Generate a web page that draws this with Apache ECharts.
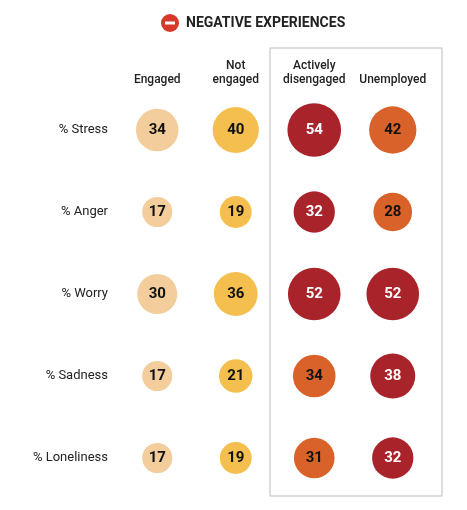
<!DOCTYPE html>
<html><head><meta charset="utf-8">
<script src="https://cdn.jsdelivr.net/npm/echarts@6/dist/echarts.min.js"></script>
<style>body{margin:0;background:#fff}#chart{width:467px;height:510px}</style>
</head><body><div id="chart"></div>
<script>
var groups = ['Engaged', 'Not\nengaged', 'Actively\ndisengaged', 'Unemployed'];
var measures = ['% Stress', '% Anger', '% Worry', '% Sadness', '% Loneliness'];
var engaged = [34, 17, 30, 17, 17];
var notEngaged = [40, 19, 36, 21, 19];
var activelyDisengaged = [54, 32, 52, 34, 31];
var unemployed = [42, 28, 52, 38, 32];

var cols = [engaged, notEngaged, activelyDisengaged, unemployed];
var data = [];
measures.forEach(function (m, r) {
	for (var c = 0; c < 4; c++) {
		var v = cols[c][r];
		var color, txt = '#111';
		if (c == 0) color = '#F3CD9B';
		else if (c == 1) color = '#F5BF4F';
		else {
			var other = cols[c == 2 ? 3 : 2][r];
			if (v >= other) { color = '#A9232B'; txt = '#fff'; }
			else color = '#D9622A';
		}
		data.push({
			value: [c, r, v],
			itemStyle: { color: color, opacity: 1 },
			label: { color: txt }
		});
	}
});

var myChart = echarts.init(document.getElementById('chart'));
myChart.setOption({
	animation: false,
	grid: { left: 118, right: 35, top: 89, bottom: 11 },
	xAxis: {
		type: 'category', data: groups, position: 'top',
		axisLine: { show: false }, axisTick: { show: false },
		axisLabel: { interval: 0, margin: 2, fontFamily: 'Roboto', fontWeight: 500, fontSize: 12, color: '#222', lineHeight: 14 }
	},
	yAxis: {
		type: 'category', data: measures, inverse: true,
		axisLine: { show: false }, axisTick: { show: false },
		axisLabel: { interval: 0, margin: 10, fontFamily: 'Roboto', fontSize: 13, color: '#222' }
	},
	graphic: [
		{ type: 'rect', shape: { x: 270, y: 48, width: 172, height: 448 },
		  style: { fill: 'none', stroke: '#bbb', lineWidth: 1 }, z: -1 },
		{ type: 'circle', shape: { cx: 170, cy: 23, r: 9 }, style: { fill: '#D63A2A' } },
		{ type: 'rect', shape: { x: 165, y: 21.5, width: 10, height: 3 }, style: { fill: '#fff' } },
		{ type: 'text', x: 186, y: 23, style: { text: 'NEGATIVE EXPERIENCES', font: 'bold 14px Roboto',
		  fill: '#222', verticalAlign: 'middle', letterSpacing: 1.5 } }
	],
	series: [{
		type: 'scatter',
		data: data,
		symbolSize: function (v) { return 7.3 * Math.sqrt(v[2]); },
		label: { show: true, formatter: function (p) { return p.value[2]; },
			fontFamily: 'Roboto', fontWeight: 'bold', fontSize: 15 }
	}]
});
</script></body></html>
